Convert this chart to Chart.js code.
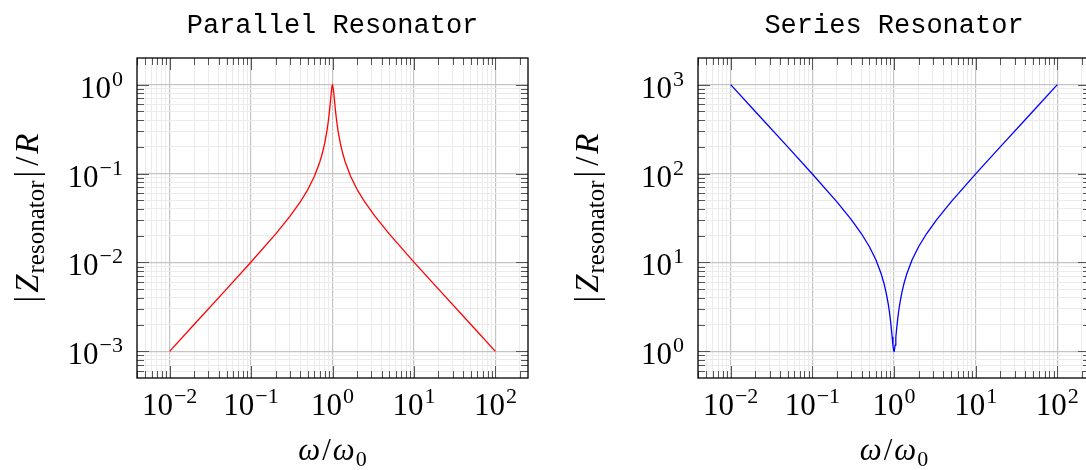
<!DOCTYPE html>
<html><head><meta charset="utf-8">
<script src="https://cdn.jsdelivr.net/npm/chart.js@4.4.1/dist/chart.umd.min.js"></script>
<style>
html,body{margin:0;padding:0;background:#fff;overflow:hidden;width:1086px;height:470px;}
#wrap{position:relative;width:1086px;height:470px;overflow:hidden;}
.box{position:absolute;top:0;height:470px;}
</style></head><body>
<div id="wrap">
<div class="box" style="left:0;width:560px"><canvas id="c1" width="560" height="470"></canvas></div>
<div class="box" style="left:560px;width:540px"><canvas id="c2" width="540" height="470"></canvas></div>
</div>
<script>
// ---- data ----
const omega = [0.01, 0.02, 0.05, 0.1, 0.2, 0.3, 0.4, 0.5, 0.6, 0.7, 0.75, 0.8, 0.85, 0.88, 0.9, 0.93, 0.95, 0.97, 0.99, 1,
  1.0101, 1.0309, 1.0526, 1.0753, 1.1111, 1.1364, 1.1765, 1.25, 1.3333, 1.4286, 1.6667, 2, 2.5, 3.3333, 5, 10, 20, 50, 100];
const parallelZ = [0.0010001, 0.002001, 0.005013, 0.0101, 0.02083, 0.03295, 0.04757, 0.06652, 0.09334, 0.136, 0.169, 0.2169, 0.2929, 0.3634, 0.4281, 0.567, 0.6979, 0.854, 0.9804, 1,
  0.9804, 0.854, 0.6979, 0.567, 0.4281, 0.3634, 0.2929, 0.2169, 0.169, 0.136, 0.09334, 0.06652, 0.04757, 0.03295, 0.02083, 0.0101, 0.005013, 0.002001, 0.0010001];
const seriesZ = [999.9, 499.8, 199.5, 99.01, 48.01, 30.35, 21.02, 15.03, 10.71, 7.354, 5.918, 4.610, 3.414, 2.752, 2.336, 1.764, 1.433, 1.171, 1.020, 1,
  1.020, 1.171, 1.433, 1.764, 2.336, 2.752, 3.414, 4.610, 5.918, 7.354, 10.71, 15.03, 21.02, 30.35, 48.01, 99.01, 199.5, 499.8, 999.9];

const xDecades = [0.01, 0.1, 1, 10, 100];
const xTickExponents = ['\u22122', '\u22121', '0', '1', '2'];
const yDecadesParallel = [0.001, 0.01, 0.1, 1];
const yTickExponentsParallel = ['\u22123', '\u22122', '\u22121', '0'];
const yDecadesSeries = [1, 10, 100, 1000];
const yTickExponentsSeries = ['0', '1', '2', '3'];
const plotTitles = ['Parallel Resonator', 'Series Resonator'];

// ---- helpers ----
const MAIN = '31px "Liberation Serif"';
const ITAL = 'italic 31px "Liberation Serif"';
const SMALL = '22px "Liberation Serif"';
const TMAIN = '33px "Liberation Serif"';
const TITAL = 'italic 33px "Liberation Serif"';
const TSMALL = '25px "Liberation Serif"';
const TITLEFONT = '27px "Liberation Mono"';

function isDecade(v){ const l = Math.log10(v); return Math.abs(l - Math.round(l)) < 1e-9; }
function logTicks(min, max){
  const out = [];
  const e0 = Math.floor(Math.log10(min)), e1 = Math.ceil(Math.log10(max));
  for (let e = e0; e <= e1; e++) for (let m = 1; m <= 9; m++) {
    const v = parseFloat((m * Math.pow(10, e)).toPrecision(6));
    if (v >= min * (1 - 1e-9) && v <= max * (1 + 1e-9)) out.push({value: v});
  }
  return out;
}
function drawRuns(ctx, runs, x, y, align){
  let w = 0;
  runs.forEach(r => { ctx.font = r.font; r.w = ctx.measureText(r.t).width; w += r.w + (r.gap || 0) + (r.after || 0); });
  let cx = align === 'center' ? x - w / 2 : (align === 'right' ? x - w : x);
  ctx.textAlign = 'left'; ctx.textBaseline = 'alphabetic';
  runs.forEach(r => { cx += (r.gap || 0); ctx.font = r.font; ctx.fillText(r.t, cx, y + (r.dy || 0)); cx += r.w + (r.after || 0); });
}

function annotPlugin(cfg){
  return {
    id: 'annot',
    afterDraw(chart){
      const ctx = chart.ctx, a = chart.chartArea, sx = chart.scales.x, sy = chart.scales.y;
      ctx.save();
      // tick marks inside on all four sides
      ctx.strokeStyle = '#555555'; ctx.lineWidth = 1;
      ctx.beginPath();
      sx.ticks.forEach(t => {
        const p = Math.round(sx.getPixelForValue(t.value)) + 0.5, L = isDecade(t.value) ? 12 : 7;
        ctx.moveTo(p, a.top); ctx.lineTo(p, a.top + L);
        ctx.moveTo(p, a.bottom); ctx.lineTo(p, a.bottom - L);
      });
      sy.ticks.forEach(t => {
        const p = Math.round(sy.getPixelForValue(t.value)) + 0.5, L = isDecade(t.value) ? 12 : 7;
        ctx.moveTo(a.left, p); ctx.lineTo(a.left + L, p);
        ctx.moveTo(a.right, p); ctx.lineTo(a.right - L, p);
      });
      ctx.stroke();
      // frame
      ctx.strokeStyle = '#000'; ctx.lineWidth = 1.3;
      ctx.strokeRect(a.left, a.top, a.right - a.left, a.bottom - a.top);
      ctx.fillStyle = '#000';
      // x tick labels
      xDecades.forEach((v, i) => {
        drawRuns(ctx, [{t: '10', font: MAIN}, {t: xTickExponents[i], font: SMALL, dy: -12, gap: 1}], sx.getPixelForValue(v), 415, 'center');
      });
      // y tick labels
      cfg.yDecades.forEach((v, i) => {
        drawRuns(ctx, [{t: '10', font: MAIN}, {t: cfg.yExps[i], font: SMALL, dy: -12, gap: 1}], a.left - 14, sy.getPixelForValue(v) + 13, 'right');
      });
      // x title
      drawRuns(ctx, [{t: '\u03c9', font: ITAL}, {t: '/', font: MAIN, gap: 2, after: 2}, {t: '\u03c9', font: ITAL}, {t: '0', font: SMALL, dy: 6, gap: 1}], (a.left + a.right) / 2, 460, 'center');
      // y title
      ctx.save();
      ctx.translate(cfg.yTitleX, (a.top + a.bottom) / 2);
      ctx.rotate(-Math.PI / 2);
      drawRuns(ctx, [{t: '|', font: TMAIN, after: 3}, {t: 'Z', font: TITAL, after: 1}, {t: 'resonator', font: TSMALL, dy: 6},
                     {t: '|', font: TMAIN, gap: 3, after: 3}, {t: '/', font: TMAIN, gap: 2, after: 3}, {t: 'R', font: TITAL}], 0, 0, 'center');
      ctx.restore();
      // plot title
      ctx.font = TITLEFONT; ctx.textAlign = 'center';
      ctx.fillText(cfg.title, (a.left + a.right) / 2, 33);
      ctx.restore();
    }
  };
}

function makeChart(id, ys, color, yMin, yMax, cfg){
  const pts = omega.map((x, i) => ({x: x, y: ys[i]}));
  const gridColor = c => (c.tick && isDecade(c.tick.value)) ? '#c4c4c4' : '#ebebeb';
  const gridWidth = c => (c.tick && isDecade(c.tick.value)) ? 1.2 : 1;
  return new Chart(document.getElementById(id), {
    type: 'line',
    data: {datasets: [{data: pts, borderColor: color, borderWidth: 1.3, borderJoinStyle: 'round', pointRadius: 0, tension: 0, fill: false}]},
    options: {
      responsive: false, animation: false, devicePixelRatio: 1,
      layout: {padding: cfg.padding},
      plugins: {legend: {display: false}, tooltip: {enabled: false}, title: {display: false}},
      scales: {
        x: {type: 'logarithmic', min: Math.pow(10, -2.4), max: Math.pow(10, 2.4),
            afterBuildTicks: s => { s.ticks = logTicks(s.min, s.max); },
            ticks: {display: false, autoSkip: false},
            grid: {drawTicks: false, color: gridColor, lineWidth: gridWidth},
            border: {display: false}},
        y: {type: 'logarithmic', min: yMin, max: yMax,
            afterBuildTicks: s => { s.ticks = logTicks(s.min, s.max); },
            ticks: {display: false, autoSkip: false},
            grid: {drawTicks: false, color: gridColor, lineWidth: gridWidth},
            border: {display: false}}
      }
    },
    plugins: [annotPlugin(cfg)]
  });
}

function build(){
  makeChart('c1', parallelZ, '#ff0000', Math.pow(10, -3.3), Math.pow(10, 0.3),
    {padding: {left: 137, right: 32, top: 58, bottom: 92}, yDecades: yDecadesParallel, yExps: yTickExponentsParallel, yTitleX: 38, title: plotTitles[0]});
  makeChart('c2', seriesZ, '#0000ff', Math.pow(10, -0.3), Math.pow(10, 3.3),
    {padding: {left: 138, right: 10, top: 58, bottom: 92}, yDecades: yDecadesSeries, yExps: yTickExponentsSeries, yTitleX: 38, title: plotTitles[1]});
}
const fontLoads = [MAIN, ITAL, SMALL, TMAIN, TITAL, TSMALL, TITLEFONT].map(f => document.fonts.load(f, '10ω'));
Promise.all(fontLoads).then(build, build);
</script>
</body></html>
